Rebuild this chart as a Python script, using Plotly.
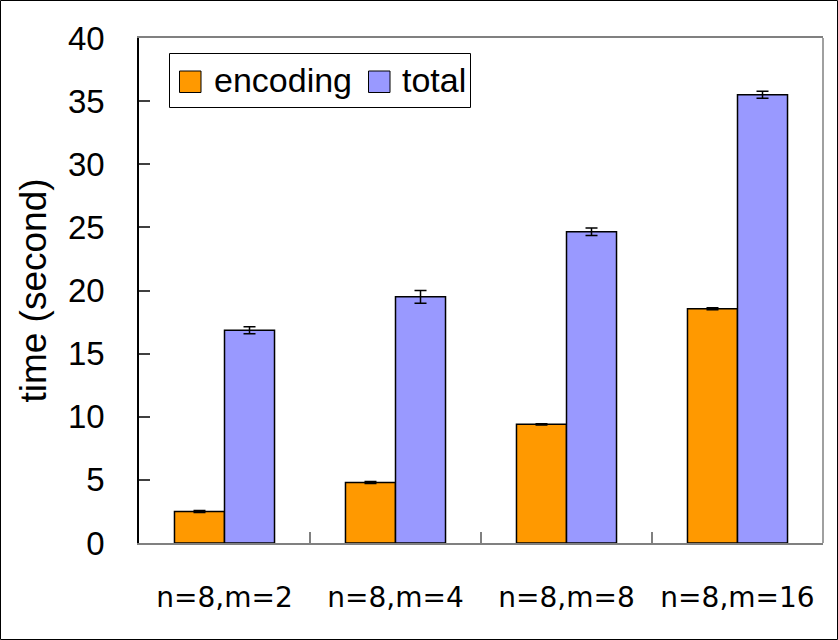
import plotly.graph_objects as go

categories = ["n=8,m=2", "n=8,m=4", "n=8,m=8", "n=8,m=16"]
series_names = ["encoding", "total"]
encoding = [2.5, 4.8, 9.4, 18.55]
encoding_err = [0.08, 0.08, 0.05, 0.08]
total = [16.85, 19.5, 24.65, 35.5]
total_err = [0.28, 0.5, 0.3, 0.28]
colors = ["#FF9900", "#9999FF"]
y_ticks = [0, 5, 10, 15, 20, 25, 30, 35, 40]

W, H = 838, 640
L, R, T, B = 139, 15, 38, 97
PW, PH = W - L - R, H - T - B

def px(x):
    return (x - L) / PW

def py(y):
    return (H - B - y) / PH

fig = go.Figure()
for name, vals, errs, col in [(series_names[0], encoding, encoding_err, colors[0]),
                              (series_names[1], total, total_err, colors[1])]:
    fig.add_trace(go.Bar(
        x=categories, y=vals, name=name, showlegend=False,
        marker=dict(color=col, line=dict(color="black", width=1.5)),
        error_y=dict(type="data", array=errs, visible=True, color="black",
                     thickness=1.5, width=6),
    ))

shapes = []
# outer figure border
shapes.append(dict(type="rect", xref="paper", yref="paper",
                   x0=px(0.5), x1=px(W - 0.5), y0=py(H - 0.5), y1=py(0.5),
                   line=dict(color="black", width=1), layer="below"))
# right plot border
shapes.append(dict(type="line", xref="paper", yref="paper",
                   x0=1, x1=1, y0=0, y1=1, line=dict(color="#808080", width=1.5)))
# custom legend
shapes.append(dict(type="rect", xref="paper", yref="paper",
                   x0=px(169.5), x1=px(470.5), y0=py(107.5), y1=py(53.5),
                   line=dict(color="black", width=1), fillcolor="white"))
swatch_x = [179.5, 368.5]
text_x = [212, 400]
annotations = []
for i, name in enumerate(series_names):
    shapes.append(dict(type="rect", xref="paper", yref="paper",
                       x0=px(swatch_x[i]), x1=px(swatch_x[i] + 21.5),
                       y0=py(92.5), y1=py(71),
                       line=dict(color="black", width=1), fillcolor=colors[i]))
    annotations.append(dict(xref="paper", yref="paper", x=px(text_x[i]), y=py(80.5),
                            xanchor="left", yanchor="middle", showarrow=False,
                            text=name, font=dict(family="Liberation Sans", size=34,
                                                 color="black")))

fig.update_layout(
    width=W, height=H,
    margin=dict(l=L, r=R, t=T, b=B, autoexpand=False),
    paper_bgcolor="white", plot_bgcolor="white",
    barmode="group", bargap=0.415, bargroupgap=0,
    showlegend=False,
    shapes=shapes, annotations=annotations,
    xaxis=dict(
        type="category", showline=True, linecolor="#808080", linewidth=1.5,
        mirror=True, ticks="inside", ticklen=11, tickcolor="#808080",
        tickwidth=1.5, tickson="boundaries", showgrid=False,
        tickfont=dict(family="DejaVu Sans", size=28, color="black"),
        ticklabelstandoff=29,
    ),
    yaxis=dict(
        range=[0, 40], tickvals=y_ticks, showline=True, linecolor="black",
        linewidth=1.5, ticks="inside", ticklen=11, tickcolor="#404040",
        tickwidth=1.5, showgrid=False, zeroline=False,
        tickfont=dict(family="Liberation Sans", size=33, color="black"),
        ticklabelstandoff=26,
        title=dict(text="time (second)", standoff=10,
                   font=dict(family="Liberation Sans", size=37, color="black")),
    ),
)

fig.write_html("out.html", config={"displayModeBar": False},
               post_script="document.body.style.margin='0';document.body.style.overflow='hidden';")
